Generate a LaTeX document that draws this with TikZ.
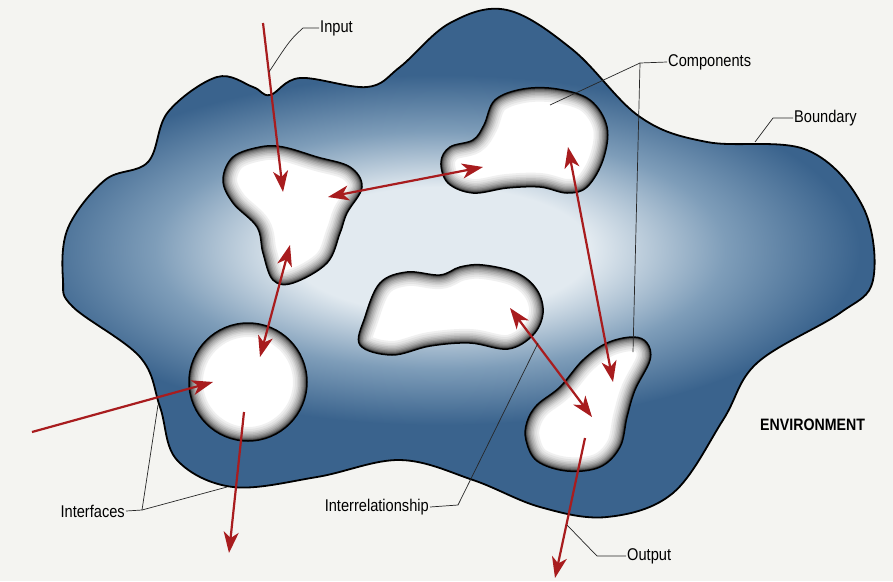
\documentclass[tikz,border=0pt]{standalone}
\usepackage{fontspec}
\setmainfont{Liberation Sans}[FakeStretch=0.86]
\usepackage{xcolor}
\usepackage{tikz}
\usetikzlibrary{arrows.meta}

\definecolor{paper}{HTML}{F4F4F1}
\definecolor{sysdark}{HTML}{3A638D}
\definecolor{sysmid}{HTML}{7E9DB9}
\definecolor{syslight}{HTML}{E2EAF0}
\definecolor{flowred}{HTML}{A81C1E}

\pgfdeclareradialshading{sysglow}{\pgfpoint{0bp}{0bp}}{color(0bp)=(syslight); color(9bp)=(syslight); color(17bp)=(sysmid); color(25bp)=(sysdark); color(50bp)=(sysdark)}

% outline of the system and of its parts
\def\sysline{plot[smooth cycle, tension=0.6] coordinates {(63,280) (68,228) (105,180) (148,162) (168,112) (217,77) (253,87) (270,95) (300,78) (367,87) (400,67) (450,23) (507,10) (573,50) (640,117) (707,142) (807,150) (863,207) (873,280) (840,313) (757,363) (723,420) (673,493) (607,517) (540,507) (473,480) (400,460) (317,477) (233,487) (177,460) (160,407) (140,357) (73,307)}}
\def\partA{plot[smooth cycle, tension=0.6] coordinates {(223,180) (233,157) (260,147) (283,147) (317,157) (350,167) (362,187) (347,213) (340,233) (327,263) (293,283) (273,280) (263,253) (257,227) (233,203)}}
\def\partB{plot[smooth cycle, tension=0.6] coordinates {(441,162) (450,147) (473,140) (484,125) (495,100) (523,89) (557,89) (590,100) (607,127) (603,160) (587,187) (567,193) (540,187) (507,188) (473,193) (448,183)}}
\def\partC{plot[smooth cycle, tension=0.6] coordinates {(360,345) (365,317) (380,283) (407,272) (440,275) (460,267) (483,265) (517,273) (537,290) (543,313) (533,335) (508,349) (470,343) (430,346) (392,355)}}
\def\partD{plot[smooth cycle, tension=0.6] coordinates {(527,422) (537,405) (560,387) (583,360) (607,343) (633,337) (647,343) (650,360) (635,390) (627,417) (620,447) (600,467) (567,471) (537,461) (526,440)}}
\def\partE{(248,382) circle (59pt)}

\newcommand{\drawpart}[1]{%
  \begin{scope}
    \clip #1;
    \fill[white] #1;
    \foreach \w/\g in {28/6,24/11,20/17,17/24,14/31,11/39,8.5/48,6/57,4/67,2.5/78}
      \draw[line width=\w pt, black!\g] #1;
  \end{scope}
  \draw[line width=1.5pt] #1;}

\begin{document}
\begin{tikzpicture}[x=1pt, y=-1pt]

\tikzstyle{flow} = [draw=flowred, line width=2.2pt, -{Stealth[length=21pt, width=15pt, inset=6pt]}]
\tikzstyle{both} = [draw=flowred, line width=2.2pt, {Stealth[length=21pt, width=15pt, inset=6pt]}-{Stealth[length=21pt, width=15pt, inset=6pt]}]
\tikzstyle{leader} = [draw=black!85, line width=0.7pt]
\tikzstyle{tag} = [font=\fontsize{17}{19}\selectfont, inner sep=1pt]

\fill[paper] (0,0) rectangle (893,581);
\useasboundingbox (0,0) rectangle (893,581);

% the system
\fill[sysdark] \sysline;
\begin{scope}
  \clip \sysline;
  \shade[shading=sysglow] (440,250) ellipse (420pt and 175pt);
\end{scope}
\draw[line width=1.8pt] \sysline;

% components
\drawpart{\partA}
\drawpart{\partB}
\drawpart{\partC}
\drawpart{\partD}
\drawpart{\partE}

% arrow ends
\coordinate (inTop) at (263,23);
\coordinate (aIn) at (283,192);
\coordinate (aRight) at (328,197);
\coordinate (bLeft) at (483,167);
\coordinate (aLow) at (290,245);
\coordinate (eTop) at (260,357);
\coordinate (envLeft) at (32,432);
\coordinate (eIn) at (213,382);
\coordinate (eOut) at (244,412);
\coordinate (outLeft) at (229,553);
\coordinate (bLow) at (568,147);
\coordinate (dTop) at (613,382);
\coordinate (cRight) at (510,308);
\coordinate (dMid) at (592,417);
\coordinate (dOut) at (585,438);
\coordinate (outRight) at (555,578);

\draw [flow] (inTop) -- (aIn);
\draw [both] (aRight) -- (bLeft);
\draw [both] (aLow) -- (eTop);
\draw [flow] (envLeft) -- (eIn);
\draw [flow] (eOut) -- (outLeft);
\draw [both] (bLow) -- (dTop);
\draw [both] (cRight) -- (dMid);
\draw [flow] (dOut) -- (outRight);

% labels
\node (input) [tag, anchor=west] at (319,28) {Input};
\node (components) [tag, anchor=west] at (667,62) {Components};
\node (boundary) [tag, anchor=west] at (793,118) {Boundary};
\node (interfaces) [tag, anchor=east] at (126,511) {Interfaces};
\node (interrel) [tag, anchor=east] at (430,507) {Interrelationship};
\node (output) [tag, anchor=west] at (626,556) {Output};
\node (environment) [tag, font=\fontsize{16.5}{18}\selectfont\bfseries, anchor=west] at (759,425) {ENVIRONMENT};

% leader lines
\coordinate (inBend) at (303,28);
\coordinate (inEnd) at (269,72);
\coordinate (compFork) at (640,63);
\coordinate (compB) at (550,105);
\coordinate (compD) at (633,352);
\coordinate (bdBend) at (773,118);
\coordinate (bdEnd) at (755,142);
\coordinate (ifFork) at (142,510);
\coordinate (ifUp) at (158,405);
\coordinate (ifDown) at (227,487);
\coordinate (irBend) at (458,505);
\coordinate (irEnd) at (538,343);
\coordinate (outBend) at (597,556);
\coordinate (outEnd) at (567,525);

\draw [leader] (input.west) -- (inBend) .. controls (290,40) .. (inEnd);
\draw [leader] (components.west) -- (compFork) -- (compB);
\draw [leader] (compFork) -- (compD);
\draw [leader] (boundary.west) -- (bdBend) -- (bdEnd);
\draw [leader] (interfaces.east) -- (ifFork) -- (ifUp);
\draw [leader] (ifFork) -- (ifDown);
\draw [leader] (interrel.east) -- (irBend) -- (irEnd);
\draw [leader] (output.west) -- (outBend) -- (outEnd);

\end{tikzpicture}
\end{document}
